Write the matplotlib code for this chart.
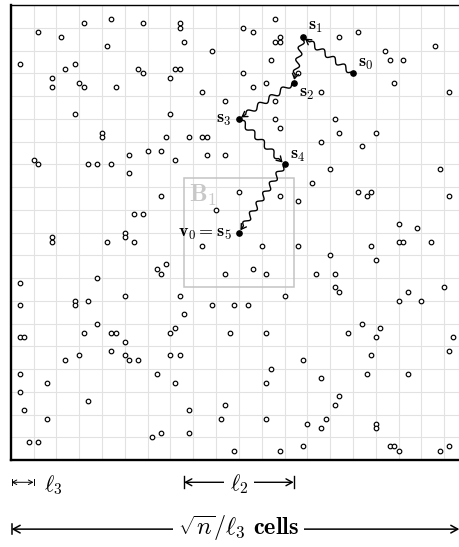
import numpy as np
import matplotlib
matplotlib.use('Agg')
import matplotlib.pyplot as plt
from matplotlib.patches import FancyArrowPatch, Rectangle
from matplotlib.path import Path

plt.rcParams['mathtext.fontset'] = 'cm'

# sample points, in sub-lattice units (5 per grid cell, 100 x 100 frame)
pts = [
    (2, 87), (6, 94), (11, 93), (16, 96), (22, 97), (29, 96), (37, 96), (37, 95),
    (38, 92), (44, 90), (21, 91), (12, 86), (14, 87), (9, 84), (9, 82), (15, 83),
    (16, 82), (23, 82), (28, 86), (29, 85), (36, 86), (37, 86), (35, 84), (42, 81),
    (47, 79), (14, 76), (35, 76), (20, 72), (20, 71), (34, 71), (39, 71), (42, 71),
    (43, 71), (5, 66), (6, 65), (17, 65), (19, 65), (22, 65), (26, 67), (30, 68),
    (33, 68), (36, 66), (43, 67), (47, 67), (26, 63), (33, 58), (27, 54), (29, 54),
    (45, 55),
    (58, 97), (51, 95), (53, 94), (59, 93), (58, 92), (59, 92), (72, 93), (76, 94),
    (93, 91), (82, 90), (83, 88), (86, 88), (57, 88), (51, 85), (56, 83), (53, 82),
    (63, 85), (68, 81), (84, 83), (96, 81), (58, 79), (58, 75), (59, 73), (71, 75),
    (72, 72), (80, 72), (68, 70), (77, 69), (70, 64), (94, 64), (66, 61), (50, 59),
    (59, 58), (63, 57), (76, 59), (78, 58), (79, 59), (96, 58), (85, 52), (89, 51),
    (9, 49), (9, 48), (21, 48), (25, 50), (25, 49), (27, 48), (42, 47), (47, 41),
    (32, 42), (33, 41), (34, 43), (2, 39), (19, 40), (2, 34), (14, 35), (14, 34),
    (17, 35), (25, 36), (37, 36), (44, 34), (38, 32), (19, 30), (2, 27), (3, 27),
    (16, 28), (22, 28), (23, 28), (25, 26), (35, 28), (36, 29), (48, 28), (22, 24),
    (15, 23), (12, 22), (25, 23), (26, 22), (28, 22), (35, 23), (37, 23), (2, 19),
    (8, 17), (32, 19), (36, 17), (2, 15), (17, 13), (3, 11), (39, 11), (47, 12),
    (8, 9), (46, 9), (4, 4), (6, 4), (31, 5), (33, 6), (39, 6),
    (55, 47), (63, 47), (79, 47), (85, 48), (86, 48), (92, 48), (70, 45), (80, 44),
    (53, 42), (56, 41), (67, 41), (71, 41), (71, 38), (72, 37), (87, 37), (95, 38),
    (60, 36), (85, 35), (90, 35), (49, 34), (52, 34), (77, 30), (81, 29), (80, 27),
    (74, 28), (56, 28), (97, 27), (96, 24), (79, 23), (64, 22), (57, 20), (68, 18),
    (56, 17), (78, 19), (87, 19), (72, 14), (71, 12), (56, 9), (65, 8), (69, 9),
    (68, 7), (80, 8), (80, 7), (49, 2), (59, 2), (64, 3), (83, 3), (84, 3),
    (85, 2), (94, 2), (96, 3),
]
pts_x = [p[0] for p in pts]
pts_y = [p[1] for p in pts]

# walk s0 -> s5
walk_x = [75, 64, 62, 50, 60, 50]
walk_y = [85, 93, 83, 75, 65, 50]

# box B1
box_x, box_y, box_size = 38, 38, 24


def snake(ax, p0, p1, amp=0.55, seg=2.7, pre=0.5, post=1.2):
    p0 = np.array(p0, float)
    p1 = np.array(p1, float)
    d = p1 - p0
    L = np.hypot(*d)
    u = d / L
    n = np.array([-u[1], u[0]])
    end = p1 - u * 0.6
    wl = L - 0.6 - pre - post
    k = max(1, round(wl / seg))
    t = np.linspace(0, wl, 300)
    off = amp * np.sin(2 * np.pi * k * t / wl)
    body = p0 + np.outer(pre + t, u) + np.outer(off, n)
    verts = np.vstack([p0, body, end])
    arr = FancyArrowPatch(path=Path(verts), arrowstyle='->,head_length=0.35,head_width=0.22',
                          mutation_scale=10, lw=1.0, color='black', zorder=4)
    ax.add_patch(arr)


fig = plt.figure(figsize=(4.6, 5.47), dpi=100)
ax = fig.add_axes([10.7 / 460, 87 / 547, 456.4 / 460, 454.8 / 547])
ax.set_xlim(0, 100)
ax.set_ylim(0, 100)

ax.set_xticks(range(0, 101, 5))
ax.set_yticks(range(0, 101, 5))
ax.tick_params(length=0, labelbottom=False, labelleft=False)
ax.grid(True, color='#e2e2e2', lw=0.8)
ax.set_axisbelow(True)
ax.spines['right'].set_visible(False)
ax.spines['top'].set_linewidth(1.0)
ax.spines['left'].set_linewidth(1.7)
ax.spines['bottom'].set_linewidth(1.7)

# box B1
ax.add_patch(Rectangle((box_x, box_y), box_size, box_size, fill=False,
                       ec='#c3c3c3', lw=1.1, zorder=2))
ax.text(39.0, 56.8, r'$\mathbf{B}_\mathbf{1}$', fontsize=18, color='#c8c8c8',
        ha='left', va='baseline', zorder=2)

# sample points
ax.plot(pts_x, pts_y, 'o', mfc='white', mec='black', ms=3.3, mew=0.85, zorder=3)

# walk
for a in range(len(walk_x) - 1):
    snake(ax, (walk_x[a], walk_y[a]), (walk_x[a + 1], walk_y[a + 1]))
ax.plot(walk_x, walk_y, 'o', color='black', ms=3.8, ls='none', zorder=5)

lab_kw = dict(fontsize=13, ha='center', va='center', zorder=6)
ax.text(77.9, 87.4, r'$\mathbf{s}_\mathbf{0}$', **lab_kw)
ax.text(66.9, 95.4, r'$\mathbf{s}_\mathbf{1}$', **lab_kw)
ax.text(64.9, 80.6, r'$\mathbf{s}_\mathbf{2}$', **lab_kw)
ax.text(46.7, 75.0, r'$\mathbf{s}_\mathbf{3}$', **lab_kw)
ax.text(62.9, 67.1, r'$\mathbf{s}_\mathbf{4}$', **lab_kw)
ax.text(48.4, 50.0, r'$\mathbf{v}_\mathbf{0} = \mathbf{s}_\mathbf{5}$',
        fontsize=13, ha='right', va='center', zorder=6)

# dimension arrows below the frame
def dim_arrow(x0, x1, y, bar, lw, head, left_bar=True, right_bar=True):
    ax.add_patch(FancyArrowPatch((x0, y), (x1, y),
                                 arrowstyle='<->,head_length=%g,head_width=%g' % (head, head * 0.55),
                                 mutation_scale=10, lw=lw, color='black',
                                 shrinkA=0, shrinkB=0, clip_on=False))
    if left_bar:
        ax.plot([x0, x0], [y - bar / 2, y + bar / 2], color='black', lw=lw, clip_on=False)
    if right_bar:
        ax.plot([x1, x1], [y - bar / 2, y + bar / 2], color='black', lw=lw, clip_on=False)


dim_arrow(0.2, 5, -4.9, 1.3, 0.7, 0.3)
ax.text(9.4, -5.6, r'$\ell_3$', fontsize=16, ha='center', va='center')

dim_arrow(38, 62, -4.9, 2.6, 1.0, 0.45)
ax.text(50, -5.3, r'$\ell_2$', fontsize=16, ha='center', va='center',
        bbox=dict(boxstyle='square,pad=0.25', fc='white', ec='none'))

dim_arrow(0.2, 98.3, -15.2, 2.2, 1.1, 0.5, right_bar=False)
ax.text(50, -15.0, r'$\sqrt{n}/\ell_3\ \mathbf{cells}$', fontsize=17.5,
        ha='center', va='center',
        bbox=dict(boxstyle='square,pad=0.2', fc='white', ec='none'))

fig.savefig('out.png', dpi=100)
